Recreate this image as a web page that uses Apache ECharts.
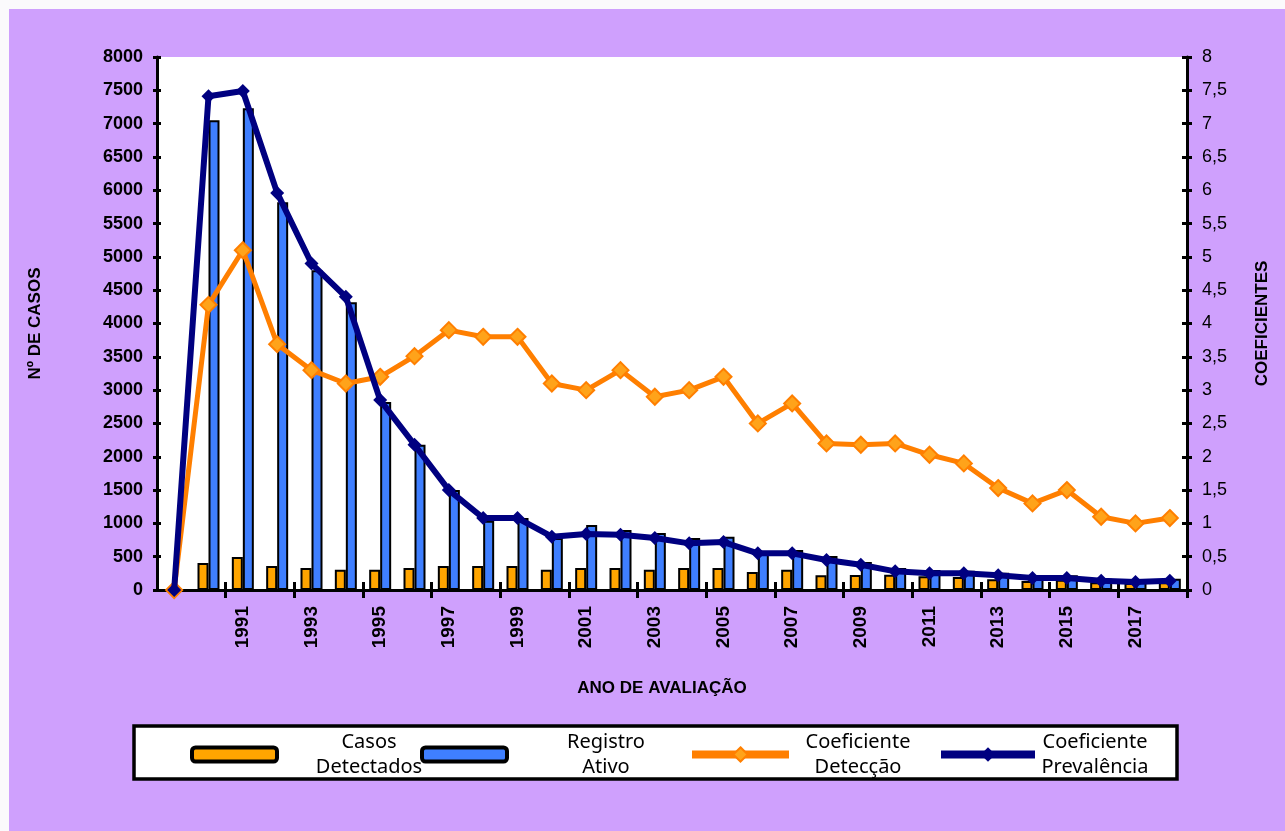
<!DOCTYPE html>
<html>
<head>
<meta charset="utf-8">
<script src="https://cdn.jsdelivr.net/npm/echarts@6/dist/echarts.min.js"></script>
<style>
  html, body { margin: 0; padding: 0; background: #fff; }
  #main { width: 1285px; height: 831px; }
</style>
</head>
<body>
<div id="main"></div>
<script>
// anos de avaliação (1989 sem dados)
var anos = ['1989','1990','1991','1992','1993','1994','1995','1996','1997','1998','1999',
  '2000','2001','2002','2003','2004','2005','2006','2007','2008','2009',
  '2010','2011','2012','2013','2014','2015','2016','2017','2018'];

var casosDetectados = [null, 405, 495, 360, 330, 305, 305, 330, 360, 360, 360,
  305, 330, 330, 305, 330, 330, 270, 305, 220, 225,
  230, 205, 195, 160, 135, 155, 115, 105, 115];

var registroAtivo = [null, 7050, 7230, 5820, 4800, 4320, 2820, 2180, 1500, 1040, 1080,
  780, 975, 900, 855, 780, 800, 570, 600, 510, 420,
  330, 300, 290, 260, 220, 220, 170, 150, 170];

var coefDeteccao = [0, 4.28, 5.1, 3.69, 3.3, 3.1, 3.2, 3.51, 3.9, 3.8, 3.8,
  3.1, 3.0, 3.3, 2.9, 3.0, 3.2, 2.5, 2.8, 2.2, 2.18,
  2.2, 2.03, 1.9, 1.53, 1.3, 1.5, 1.1, 1.0, 1.08];

var coefPrevalencia = [0, 7.41, 7.49, 5.96, 4.9, 4.4, 2.85, 2.18, 1.5, 1.08, 1.08,
  0.8, 0.84, 0.83, 0.78, 0.7, 0.72, 0.55, 0.55, 0.45, 0.38,
  0.28, 0.25, 0.25, 0.22, 0.18, 0.18, 0.14, 0.12, 0.14];

var legendaLinhas = {
  'Casos Detectados': ['Casos', 'Detectados'],
  'Registro Ativo': ['Registro', 'Ativo'],
  'Coeficiente Detecção': ['Coeficiente', 'Detecção'],
  'Coeficiente Prevalência': ['Coeficiente', 'Prevalência']
};

function legenda(nome, left, iconW, textW, extra) {
  return Object.assign({
    data: [nome],
    left: left,
    top: 727,
    itemWidth: iconW,
    itemHeight: 14,
    selectedMode: false,
    formatter: function (n) {
      return legendaLinhas[n].map(function (l) { return '{t|' + l + '}'; }).join('\n');
    },
    textStyle: {
      rich: {
        t: { width: textW, align: 'center', fontFamily: 'Noto Sans', fontSize: 20, lineHeight: 25, color: '#000' }
      }
    }
  }, extra);
}

var chart = echarts.init(document.getElementById('main'));

var eixoFonte = { fontFamily: 'Liberation Sans', color: '#000' };

var option = {
  animation: false,
  backgroundColor: '#cfa0fd',
  grid: {
    left: 157, right: 98, top: 57, bottom: 241,
    show: true, backgroundColor: '#fff', borderWidth: 0
  },
  graphic: [
    { type: 'rect', shape: { x: 0, y: 0, width: 1285, height: 9 }, style: { fill: '#fbfafc' } },
    { type: 'rect', shape: { x: 0, y: 0, width: 9, height: 831 }, style: { fill: '#fbfafc' } },
    { type: 'rect', shape: { x: 134, y: 726, width: 1043, height: 53 },
      style: { fill: '#fff', stroke: '#000', lineWidth: 3.5 } },
    { type: 'text', x: 662, y: 688,
      style: { text: 'ANO DE AVALIAÇÃO', fill: '#000', font: 'bold 17px "Liberation Sans"',
        textAlign: 'center', textVerticalAlign: 'middle' } }
  ],
  legend: [
    legenda('Casos Detectados', 185, 85, 174, { itemStyle: { borderColor: '#000', borderWidth: 4 } }),
    legenda('Registro Ativo', 415, 85, 188, { itemStyle: { borderColor: '#000', borderWidth: 4 } }),
    legenda('Coeficiente Detecção', 683, 97, 128, { itemHeight: 18, lineStyle: { width: 8 } }),
    legenda('Coeficiente Prevalência', 932, 94, 110, { itemHeight: 18, lineStyle: { width: 8 } })
  ],
  xAxis: [
    {
      type: 'category', data: anos, position: 'bottom',
      axisLine: { lineStyle: { color: '#000', width: 3 } },
      axisTick: { show: true, length: 8, lineStyle: { color: '#000', width: 3 } },
      axisLabel: Object.assign({
        rotate: 90, fontSize: 19, fontWeight: 'bold', margin: 16,
        interval: function (i) { return i > 0 && i % 2 === 0; }
      }, eixoFonte)
    },
    {
      type: 'category', data: anos, position: 'bottom',
      axisLine: { show: false },
      axisTick: { show: true, inside: true, length: 8, lineStyle: { color: '#000', width: 3 } },
      axisLabel: { show: false }
    }
  ],
  yAxis: [
    {
      type: 'value', min: 0, max: 8000, interval: 500, position: 'left',
      name: 'Nº DE CASOS', nameLocation: 'middle', nameRotate: 90, nameGap: 113,
      nameTextStyle: Object.assign({ fontSize: 17, fontWeight: 'bold' }, eixoFonte),
      splitLine: { show: false },
      axisLine: { show: true, lineStyle: { color: '#000', width: 3 } },
      axisTick: { show: true, length: 4, lineStyle: { color: '#000', width: 3 } },
      axisLabel: Object.assign({
        fontSize: 18, fontWeight: 'bold', margin: 14,
        formatter: function (v) { return String(v); }
      }, eixoFonte)
    },
    {
      type: 'value', min: 0, max: 8, interval: 0.5, position: 'right',
      name: 'COEFICIENTES', nameLocation: 'middle', nameRotate: 90, nameGap: 67,
      nameTextStyle: Object.assign({ fontSize: 17, fontWeight: 'bold' }, eixoFonte),
      splitLine: { show: false },
      axisLine: { show: true, lineStyle: { color: '#000', width: 3 } },
      axisTick: { show: true, length: 5, lineStyle: { color: '#000', width: 3 } },
      axisLabel: Object.assign({
        fontSize: 18, margin: 15,
        formatter: function (v) { return String(v).replace('.', ','); }
      }, eixoFonte)
    },
    {
      type: 'value', min: 0, max: 8000, interval: 500, position: 'left',
      splitLine: { show: false }, axisLine: { show: false }, axisLabel: { show: false },
      axisTick: { show: true, inside: true, length: 4, lineStyle: { color: '#000', width: 3 } }
    },
    {
      type: 'value', min: 0, max: 8, interval: 0.5, position: 'right',
      splitLine: { show: false }, axisLine: { show: false }, axisLabel: { show: false },
      axisTick: { show: true, inside: true, length: 5, lineStyle: { color: '#000', width: 3 } }
    }
  ],
  series: [
    {
      name: 'Casos Detectados', type: 'bar', yAxisIndex: 0, data: casosDetectados,
      barWidth: 11, barGap: '0%',
      itemStyle: { color: '#ffa500', borderColor: '#000', borderWidth: 2 }
    },
    {
      name: 'Registro Ativo', type: 'bar', yAxisIndex: 0, data: registroAtivo,
      barWidth: 11,
      itemStyle: { color: '#3f7fff', borderColor: '#000', borderWidth: 2 }
    },
    {
      name: 'Coeficiente Detecção', type: 'line', yAxisIndex: 1, data: coefDeteccao,
      symbol: 'diamond', symbolSize: 16, z: 3,
      lineStyle: { color: '#ff7f00', width: 5 },
      itemStyle: { color: '#ffa31a', borderColor: '#ff7f00', borderWidth: 2 }
    },
    {
      name: 'Coeficiente Prevalência', type: 'line', yAxisIndex: 1, data: coefPrevalencia,
      symbol: 'diamond', symbolSize: 14, z: 4,
      lineStyle: { color: '#000080', width: 6 },
      itemStyle: { color: '#000080' }
    }
  ]
};

chart.setOption(option);
</script>
</body>
</html>
